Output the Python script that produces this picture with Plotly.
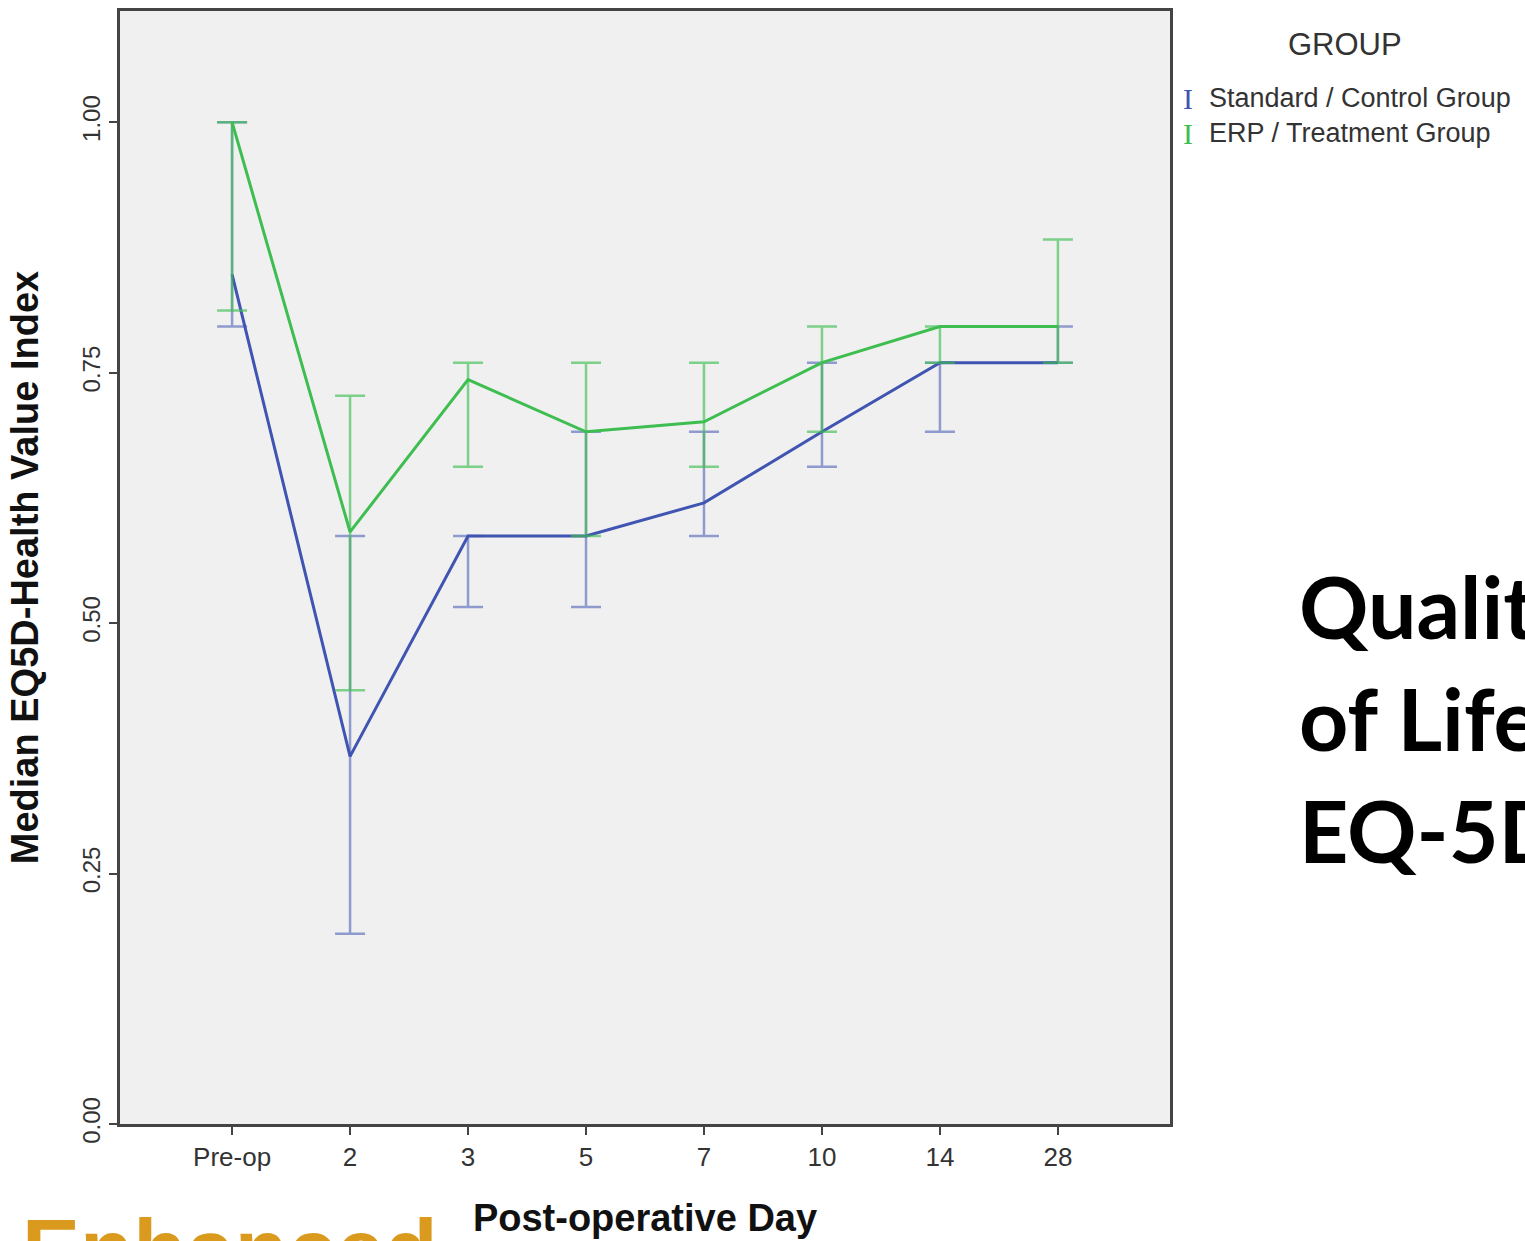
import plotly.graph_objects as go

# Post-operative day categories
days = ["Pre-op", "2", "3", "5", "7", "10", "14", "28"]

# Standard / Control Group: median EQ5D index with lower / upper bounds
std_median = [0.848, 0.367, 0.587, 0.587, 0.620, 0.691, 0.760, 0.760]
std_low = [0.796, 0.190, 0.516, 0.516, 0.587, 0.656, 0.691, 0.760]
std_high = [1.000, 0.587, 0.587, 0.691, 0.691, 0.760, 0.760, 0.796]

# ERP / Treatment Group
erp_median = [1.000, 0.591, 0.743, 0.691, 0.701, 0.760, 0.796, 0.796]
erp_low = [0.812, 0.433, 0.656, 0.587, 0.656, 0.691, 0.760, 0.760]
erp_high = [1.000, 0.727, 0.760, 0.760, 0.760, 0.796, 0.796, 0.883]

y_ticks = [0.0, 0.25, 0.5, 0.75, 1.0]

series = [
    ("Standard / Control Group", std_median, std_low, std_high,
     "rgb(64,84,178)", "rgba(64,84,178,0.55)"),
    ("ERP / Treatment Group", erp_median, erp_low, erp_high,
     "rgb(62,190,80)", "rgba(62,190,80,0.65)"),
]

pos = list(range(len(days)))
W, H = 1525, 1241
ML, MR, MT, MB = 120, 355, 11, 117
PW, PH = W - ML - MR, H - MT - MB


def px_x(px):
    return (px - ML) / PW


def px_y(py):
    return (H - MB - py) / PH


fig = go.Figure()
for name, med, lo, hi, line_col, bar_col in series:
    fig.add_trace(go.Scatter(
        x=pos, y=med, mode="lines", name=name, showlegend=False,
        line=dict(color=line_col, width=3),
        error_y=dict(
            type="data", symmetric=False,
            array=[h - m for h, m in zip(hi, med)],
            arrayminus=[m - l for m, l in zip(med, lo)],
            color=bar_col, thickness=2.5, width=15,
        ),
    ))

axis_font = dict(family="Liberation Sans, Arial, sans-serif", size=24, color="#333333")

fig.update_layout(
    width=W, height=H,
    margin=dict(l=ML, r=MR, t=MT, b=MB, autoexpand=False),
    paper_bgcolor="white",
    plot_bgcolor="#f0f0f0",
    xaxis=dict(
        range=[-0.95, len(days) - 1 + 0.95],
        tickmode="array", tickvals=pos, ticktext=days,
        showgrid=False, zeroline=False,
        showline=True, linecolor="#444444", linewidth=2.5, mirror=True,
        ticks="outside", ticklen=8, tickwidth=2, tickcolor="#444444",
        tickfont=dict(family="Liberation Sans, Arial, sans-serif", size=26, color="#333333"),
        title=dict(text="<b>Post-operative Day</b>", standoff=34,
                   font=dict(family="Liberation Sans, Arial, sans-serif", size=38, color="#111111")),
    ),
    yaxis=dict(
        range=[0, 1.111],
        tickmode="array", tickvals=y_ticks, tickformat=".2f",
        tickangle=-90,
        showgrid=False, zeroline=False,
        showline=True, linecolor="#444444", linewidth=2.5, mirror=True,
        ticks="outside", ticklen=8, tickwidth=2, tickcolor="#444444",
        tickfont=axis_font,
        title=dict(text="<b>Median EQ5D-Health Value Index</b>", standoff=28,
                   font=dict(family="Liberation Sans, Arial, sans-serif", size=38, color="#111111")),
    ),
)

# Legend block
annotations = [
    dict(text="GROUP", x=px_x(1345), y=px_y(45), xanchor="center", yanchor="middle",
         font=dict(family="Liberation Sans, Arial, sans-serif", size=31, color="#333333")),
]
for i, (name, med, lo, hi, line_col, bar_col) in enumerate(series):
    yy = px_y(98 + 35 * i)
    annotations.append(dict(text="I", x=px_x(1188), y=yy, xanchor="center", yanchor="middle",
                            font=dict(family="Liberation Serif, Times New Roman, serif", size=30,
                                      color=line_col)))
    annotations.append(dict(text=name, x=px_x(1207), y=yy, xanchor="left", yanchor="middle",
                            font=dict(family="Liberation Sans, Arial, sans-serif", size=27,
                                      color="#333333")))

# Slide heading on the right and banner word at the bottom
annotations.append(dict(text="<b>Quality<br>of Life<br>EQ-5D</b>", x=px_x(1297), y=px_y(552),
                        xanchor="left", yanchor="top", align="left",
                        font=dict(family="Lato, Open Sans, sans-serif", size=86, color="#000000")))
annotations.append(dict(text="<b>Enhanced</b>", x=px_x(20), y=px_y(1199),
                        xanchor="left", yanchor="top", align="left",
                        font=dict(family="Liberation Sans, Arial, sans-serif", size=87, color="#da9a1e")))

for a in annotations:
    a.update(xref="paper", yref="paper", showarrow=False)
fig.update_layout(annotations=annotations)

fig.write_html("out.html")
